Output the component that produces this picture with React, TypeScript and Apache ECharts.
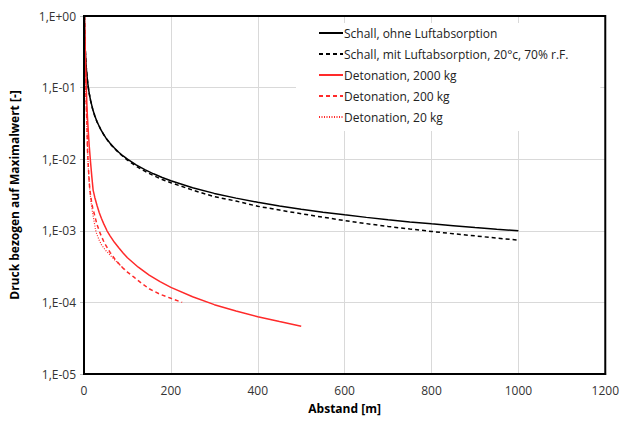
import React, { useEffect, useRef } from "react";
import * as echarts from "echarts";

const seriesNames = [
  "Schall, ohne Luftabsorption",
  "Schall, mit Luftabsorption, 20°c, 70% r.F.",
  "Detonation, 2000 kg",
  "Detonation, 200 kg",
  "Detonation, 20 kg",
];

const schallOhneX = [1, 1.5, 2, 3, 4, 5, 6, 8, 10, 12, 15, 20, 25, 30, 40, 50, 60, 70, 80, 90, 100, 120, 140, 160, 180, 200, 250, 300, 350, 400, 450, 500, 550, 600, 650, 700, 750, 800, 850, 900, 950, 1000];
const schallOhneY = [1, 0.667, 0.5, 0.333, 0.25, 0.2, 0.167, 0.125, 0.1, 0.0833, 0.0667, 0.05, 0.04, 0.0333, 0.025, 0.02, 0.0167, 0.0143, 0.0125, 0.0111, 0.01, 0.00833, 0.00714, 0.00625, 0.00556, 0.005, 0.004, 0.00333, 0.00286, 0.0025, 0.00222, 0.002, 0.00182, 0.00167, 0.00154, 0.00143, 0.00133, 0.00125, 0.00118, 0.00111, 0.00105, 0.001];

const schallMitX = [1, 1.5, 2, 3, 4, 5, 6, 8, 10, 12, 15, 20, 25, 30, 40, 50, 60, 70, 80, 90, 100, 120, 140, 160, 180, 200, 250, 300, 350, 400, 450, 500, 550, 600, 650, 700, 750, 800, 850, 900, 950, 1000];
const schallMitY = [1, 0.667, 0.5, 0.333, 0.25, 0.2, 0.167, 0.125, 0.1, 0.0833, 0.0666, 0.0499, 0.0399, 0.0332, 0.0249, 0.0198, 0.0165, 0.0141, 0.0123, 0.0109, 0.0097, 0.0080, 0.0068, 0.0059, 0.0052, 0.0047, 0.0037, 0.0030, 0.0026, 0.0022, 0.00195, 0.00173, 0.00155, 0.00139, 0.00126, 0.00115, 0.00106, 0.00098, 0.00091, 0.00085, 0.00079, 0.00074];

const det2000X = [1, 2, 3, 4, 5, 6, 7, 8, 10, 12, 15, 18, 21, 25, 30, 35, 40, 45, 53, 60, 70, 80, 90, 100, 125, 150, 175, 200, 250, 300, 350, 400, 450, 500];
const det2000Y = [1, 0.55, 0.32, 0.18, 0.11, 0.075, 0.052, 0.038, 0.024, 0.0155, 0.0092, 0.0057, 0.0037, 0.0029, 0.00226, 0.0018, 0.0015, 0.00127, 0.001, 0.00085, 0.00069, 0.00058, 0.00049, 0.00042, 0.00031, 0.00024, 0.000195, 0.000162, 0.00012, 0.000093, 0.000076, 0.000063, 0.000054, 0.0000465];

const det200X = [1, 2, 3, 4, 5, 6, 7, 8, 9, 10, 11, 12, 13.3, 15, 18, 20, 25, 30, 35, 40, 45, 50, 60, 70, 80, 90, 100, 115, 130, 150, 175, 200, 226];
const det200Y = [1, 0.4, 0.2, 0.11, 0.065, 0.042, 0.028, 0.0135, 0.0102, 0.0078, 0.0062, 0.0049, 0.0038, 0.0032, 0.0024, 0.0021, 0.0016, 0.00122, 0.001, 0.00084, 0.00072, 0.00063, 0.0005, 0.00041, 0.00035, 0.0003, 0.000265, 0.000225, 0.00019, 0.000155, 0.00013, 0.000114, 0.0001];

const det20X = [1, 2, 3, 4, 5, 6, 7, 8, 9, 10, 11, 12, 14, 16, 18, 20, 24, 27, 30, 35, 40, 45, 50, 60, 70, 80, 95];
const det20Y = [1, 0.38, 0.18, 0.1, 0.06, 0.038, 0.025, 0.0155, 0.0105, 0.0075, 0.0058, 0.0047, 0.0034, 0.0026, 0.0021, 0.00175, 0.00127, 0.001, 0.00088, 0.00074, 0.00064, 0.00058, 0.00053, 0.00046, 0.000395, 0.000345, 0.000285];

const xTicks = [0, 200, 400, 600, 800, 1000, 1200];
const yTickLabels = ["1,E-05", "1,E-04", "1,E-03", "1,E-02", "1,E-01", "1,E+00"];

const xAxisName = "Abstand [m]";
const yAxisName = "Druck bezogen auf Maximalwert [-]";

function pairs(xs: number[], ys: number[]) {
  return xs.map((x, i) => [x, ys[i]]);
}

export default function App() {
  const ref = useRef<HTMLDivElement>(null);
  useEffect(() => {
    if (!ref.current) return;
    const chart = echarts.init(ref.current, null, { renderer: "svg" });
    const font = "'Open Sans', 'Liberation Sans', sans-serif";
    const mk = (name: string, data: number[][], color: string, type: any, width = 1.5) => ({
      name,
      type: "line",
      data,
      showSymbol: false,
      symbol: "none",
      smooth: false,
      lineStyle: { color, width, type },
      itemStyle: { color },
      z: 3,
    });
    chart.setOption({
      animation: false,
      backgroundColor: "#ffffff",
      textStyle: { fontFamily: font },
      grid: {
        left: 81,
        right: 15,
        top: 16,
        bottom: 47,
        show: true,
        borderColor: "#000",
        borderWidth: 2,
        z: 4,
      },
      legend: {
        data: seriesNames,
        orient: "vertical",
        left: 296,
        top: 23,
        itemWidth: 24,
        itemHeight: 10,
        itemGap: 9,
        padding: [4, 32, 8, 22],
        backgroundColor: "#ffffff",
        itemStyle: { opacity: 0 },
        textStyle: { fontFamily: font, fontSize: 12, color: "#222", padding: [0, 0, 0, -4] },
        z: 10,
      },
      xAxis: {
        type: "value",
        min: xTicks[0],
        max: xTicks[xTicks.length - 1],
        interval: 200,
        name: xAxisName,
        nameLocation: "middle",
        nameGap: 28,
        nameTextStyle: { fontFamily: font, fontSize: 12, fontWeight: "bold", color: "#000" },
        axisLine: { show: true, lineStyle: { color: "#000", width: 2 } },
        axisTick: { show: false },
        axisLabel: { fontFamily: font, fontSize: 12, color: "#333", margin: 10, formatter: (v: number) => String(v) },
        splitLine: { show: true, lineStyle: { color: "#d9d9d9", width: 1 } },
      },
      yAxis: {
        type: "log",
        logBase: 10,
        min: 1e-5,
        max: 1,
        name: yAxisName,
        nameLocation: "middle",
        nameGap: 64,
        nameTextStyle: { fontFamily: font, fontSize: 12, fontWeight: "bold", color: "#000" },
        axisLine: { show: true, lineStyle: { color: "#000", width: 2 } },
        axisTick: { show: true, length: 4, lineStyle: { color: "#bfbfbf" } },
        axisLabel: {
          fontFamily: font,
          fontSize: 12,
          color: "#333",
          margin: 8,
          formatter: (v: number) => {
            const e = Math.round(Math.log10(v));
            return yTickLabels[e + 5] ?? "";
          },
        },
        splitLine: { show: true, lineStyle: { color: "#d9d9d9", width: 1 } },
      },
      series: [
        mk(seriesNames[0], pairs(schallOhneX, schallOhneY), "#000000", "solid"),
        mk(seriesNames[1], pairs(schallMitX, schallMitY), "#000000", [4, 3]),
        mk(seriesNames[2], pairs(det2000X, det2000Y), "#ff2a2a", "solid"),
        mk(seriesNames[3], pairs(det200X, det200Y), "#ff2a2a", [4, 3]),
        mk(seriesNames[4], pairs(det20X, det20Y), "#ff2a2a", [1, 1.5], 1.2),
      ],
    });
    return () => chart.dispose();
  }, []);
  return <div ref={ref} style={{ width: 622, height: 421, position: "absolute", left: 0, top: 0 }} />;
}
